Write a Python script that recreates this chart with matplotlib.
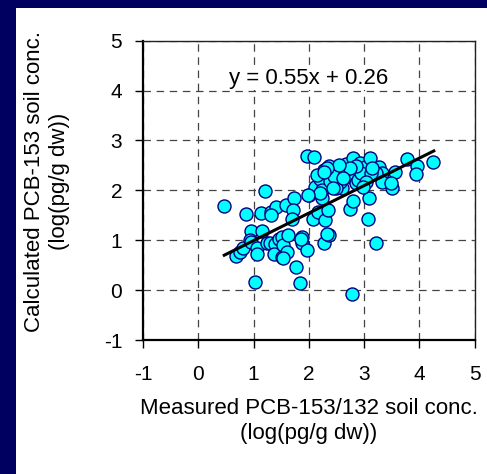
import numpy as np
import matplotlib
matplotlib.use("Agg")
import matplotlib.pyplot as plt
from matplotlib.patches import Rectangle

plt.rcParams["font.family"] = ["Liberation Sans", "DejaVu Sans"]
plt.rcParams["axes.unicode_minus"] = False

# measured (x) vs calculated (y), log(pg/g dw)
measured = [0.46, 0.86, 1.21, 1.14, 1.32, 1.40, 1.59, 1.74, 1.72, 1.69,
            1.96, 2.09, 2.00, 2.11, 2.20, 2.24, 2.23, 2.08, 2.17, 2.29,
            2.35, 2.27, 2.36, 2.31, 2.39, 2.50, 2.60, 2.56, 2.50, 2.68,
            2.80, 2.92, 3.01, 2.71, 2.80, 2.98, 2.86, 2.89, 2.95, 2.86,
            3.10, 3.27, 3.32, 3.21, 3.13, 3.04, 3.33, 3.56, 3.50, 3.49,
            3.78, 3.96, 3.94, 4.25, 3.09, 3.07, 3.21, 2.74, 2.80, 2.98,
            2.78, 1.03, 1.84, 1.77, 2.28, 2.36, 2.32, 0.68, 0.75, 0.81,
            0.95, 1.15, 0.93, 0.95, 1.06, 1.07, 1.25, 1.30, 1.39, 1.37,
            1.46, 1.51, 1.54, 1.51, 1.60, 1.63, 1.87, 1.87, 1.96, 1.85,
            2.45, 2.65, 2.75, 2.55, 2.62, 3.15, 2.44, 2.20, 2.15, 1.31,
            1.53, 1.99, 2.32, 2.28]
calculated = [1.69, 1.53, 1.99, 1.54, 1.57, 1.66, 1.71, 1.85, 1.61, 1.42,
              2.69, 2.66, 1.91, 2.06, 2.22, 2.01, 1.85, 1.42, 1.57, 1.41,
              1.60, 2.41, 2.48, 2.36, 2.18, 2.36, 2.05, 2.17, 2.04, 2.53,
              2.64, 2.54, 2.47, 2.31, 2.24, 2.24, 2.14, 2.21, 2.34, 2.49,
              2.64, 2.46, 2.34, 2.35, 2.34, 2.17, 2.17, 2.37, 2.04, 2.15,
              2.63, 2.48, 2.32, 2.56, 1.85, 1.42, 0.95, 1.62, 1.79, 2.07,
              -0.08, 0.17, 0.15, 0.46, 0.95, 1.10, 1.12, 0.69, 0.76, 0.84,
              1.18, 1.18, 1.01, 0.97, 0.84, 0.72, 0.94, 0.94, 0.93, 0.72,
              1.02, 1.07, 0.90, 0.67, 0.77, 1.10, 1.07, 0.94, 0.81, 1.02,
              2.28, 2.40, 2.45, 2.50, 2.25, 2.45, 2.05, 1.95, 2.30, 1.50,
              0.64, 1.91, 2.44, 2.37]

# trend line as drawn
trend_x = [0.47, 4.26]
trend_y = [0.70, 2.79]
equation = "y = 0.55x + 0.26"

ticks = [-1, 0, 1, 2, 3, 4, 5]

fig = plt.figure(figsize=(4.87, 4.74), dpi=100)
fig.patch.set_facecolor("#000060")
fig.patches.append(Rectangle((16 / 487, 0), 1, 1 - 8 / 474, transform=fig.transFigure,
                             facecolor="white", edgecolor="none", zorder=-10))

ax = fig.add_axes([143 / 487, 1 - 340 / 474, 331.7 / 487, 299.3 / 474])
ax.set_xlim(-1, 5)
ax.set_ylim(-1, 5)
ax.set_xticks(ticks)
ax.set_yticks(ticks)
ax.grid(True, color="#444444", linestyle=(0, (6, 4.5)), linewidth=0.9)
ax.set_axisbelow(True)

ax.scatter(measured, calculated, s=88, facecolor="#00FFFF", edgecolor="#000080",
           linewidth=1.0, zorder=3)
ax.plot(trend_x, trend_y, color="black", lw=2.2, zorder=4)

ax.text(2.0, 4.25, equation, fontsize=16, ha="center", va="center",
        bbox=dict(facecolor="white", edgecolor="none", pad=1), zorder=5)

for side in ["left", "bottom"]:
    ax.spines[side].set_linewidth(1.6)
for side in ["top", "right"]:
    ax.spines[side].set_linewidth(1.0)
    ax.spines[side].set_color("#222222")

ax.tick_params(direction="out", length=6, width=1, labelsize=15)
ax.tick_params(axis="x", pad=12)
ax.tick_params(axis="y", pad=9)
ax.set_xlabel("Measured PCB-153/132 soil conc.\n(log(pg/g dw))", fontsize=16,
              labelpad=10, linespacing=1.25)
ax.set_ylabel("Calculated PCB-153 soil conc.\n(log(pg/g dw))", fontsize=16,
              linespacing=1.25)
ax.yaxis.set_label_coords(-0.22, 0.53)

plt.savefig("out.png", dpi=100, facecolor=fig.get_facecolor())
